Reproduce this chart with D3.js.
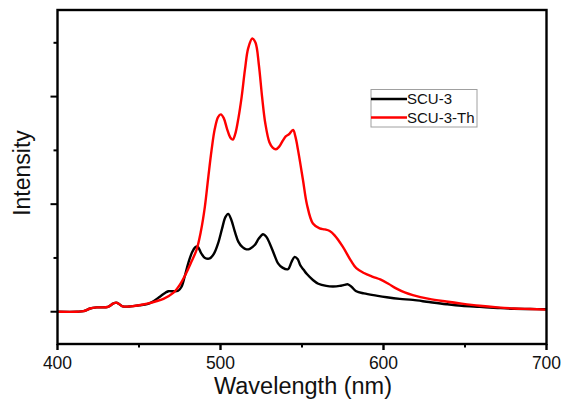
<!DOCTYPE html>
<html>
<head>
<meta charset="utf-8">
<script src="https://cdn.jsdelivr.net/npm/d3@7"></script>
<style>
  body { margin: 0; background: #fff; }
  svg text { font-family: "Liberation Sans", Arial, sans-serif; }
</style>
</head>
<body>
<svg id="chart" width="563" height="400"></svg>
<script>
// wavelength (nm) / intensity (arb., units of one y tick)
const scu3Wl = [400, 412, 416, 420, 424, 431, 434, 436, 438, 440, 445, 450, 455, 458, 462.8, 466, 468, 471, 474, 476, 478, 480.2, 482.5, 484.5, 486, 488.3, 490.5, 493.4, 496, 498.5, 501, 503, 504.7, 506.5, 508.8, 511, 513.5, 515.9, 518, 521, 523.5, 526.1, 528, 530.2, 533, 535.3, 538, 541.4, 543.5, 545.5, 547.3, 549, 551, 553, 556.7, 560, 564.9, 569, 573.1, 576, 578.2, 580.5, 583.3, 588, 595.6, 602, 610, 618, 628, 638.5, 648, 659, 670, 680, 690, 700];
const scu3Val = [0, 0, 0.01, 0.06, 0.08, 0.09, 0.15, 0.17, 0.14, 0.1, 0.1, 0.12, 0.14, 0.18, 0.28, 0.35, 0.38, 0.38, 0.39, 0.46, 0.65, 0.9, 1.1, 1.2, 1.21, 1.08, 1.0, 0.99, 1.08, 1.27, 1.55, 1.76, 1.82, 1.72, 1.49, 1.3, 1.2, 1.16, 1.17, 1.24, 1.36, 1.44, 1.4, 1.27, 1.06, 0.9, 0.82, 0.79, 0.92, 1.02, 0.98, 0.86, 0.78, 0.7, 0.59, 0.52, 0.48, 0.47, 0.48, 0.5, 0.51, 0.46, 0.38, 0.34, 0.3, 0.27, 0.24, 0.22, 0.18, 0.14, 0.11, 0.09, 0.07, 0.055, 0.05, 0.045];

const scu3ThWl = [400, 412, 416, 420, 424, 431, 434, 436, 438, 440, 445, 450, 455, 460, 465, 471, 475, 479, 482, 485.3, 488, 490.4, 492.5, 494.5, 496.5, 498.5, 500.2, 502, 504, 506, 507.5, 509, 511, 513, 515, 517, 519.5, 521.5, 523.5, 525.5, 527.5, 530, 532, 534, 536, 538, 540, 542, 544.5, 546, 547.6, 550.6, 553, 556.7, 560.8, 564, 567, 570, 575, 580, 583.3, 588, 593.5, 598, 603, 608, 613, 618, 628, 638.5, 648, 659, 670, 680, 690, 700];
const scu3ThVal = [0, 0, 0.01, 0.06, 0.08, 0.09, 0.15, 0.17, 0.14, 0.1, 0.1, 0.12, 0.15, 0.19, 0.24, 0.35, 0.5, 0.72, 0.92, 1.15, 1.5, 1.95, 2.5, 3.0, 3.4, 3.62, 3.67, 3.6, 3.4, 3.24, 3.2, 3.3, 3.6, 4.0, 4.5, 4.9, 5.08, 5.0, 4.6, 4.0, 3.5, 3.15, 3.05, 3.02, 3.07, 3.17, 3.26, 3.3, 3.38, 3.25, 3.0, 2.45, 2.0, 1.64, 1.55, 1.53, 1.5, 1.42, 1.21, 0.95, 0.81, 0.72, 0.65, 0.6, 0.52, 0.43, 0.36, 0.31, 0.24, 0.19, 0.15, 0.11, 0.08, 0.06, 0.05, 0.04];

const xMajor = [400, 500, 600, 700];
const xMinor = [450, 550, 650];
const yMajor = [0, 2, 4];
const yMinor = [1, 3, 5];

const seriesNames = ["SCU-3", "SCU-3-Th"];
const seriesColors = ["#000000", "#ff0000"];

const svg = d3.select("#chart");
const plotL = 57.5, plotR = 546.5, plotT = 10, plotB = 344;

const x = d3.scaleLinear().domain([400, 700]).range([plotL, plotR]);
// one tick unit is ~53.8px, zero sits at y=311.7
const y = d3.scaleLinear().domain([-0.6, 5.61]).range([plotB, plotT]);

const line = d3.line()
  .x(d => x(d[0]))
  .y(d => y(d[1]))
  .curve(d3.curveCatmullRom.alpha(0.5));

const series = [
  d3.zip(scu3Wl, scu3Val),
  d3.zip(scu3ThWl, scu3ThVal)
];

svg.append("g")
  .selectAll("path")
  .data(series)
  .join("path")
  .attr("d", line)
  .attr("fill", "none")
  .attr("stroke", (d, i) => seriesColors[i])
  .attr("stroke-width", 2.4)
  .attr("stroke-linejoin", "round");

// frame
svg.append("rect")
  .attr("x", plotL).attr("y", plotT)
  .attr("width", plotR - plotL).attr("height", plotB - plotT)
  .attr("fill", "none").attr("stroke", "#000").attr("stroke-width", 2.4);

// x axis ticks
const xAxis = svg.append("g").attr("transform", `translate(0,${plotB})`);
xAxis.selectAll("line.major").data(xMajor).join("line")
  .attr("class", "major")
  .attr("x1", d => x(d)).attr("x2", d => x(d))
  .attr("y1", 0).attr("y2", 6)
  .attr("stroke", "#000").attr("stroke-width", 2.4);
xAxis.selectAll("line.minor").data(xMinor).join("line")
  .attr("class", "minor")
  .attr("x1", d => x(d)).attr("x2", d => x(d))
  .attr("y1", 0).attr("y2", 3.5)
  .attr("stroke", "#000").attr("stroke-width", 2);
xAxis.selectAll("text").data(xMajor).join("text")
  .attr("x", d => x(d)).attr("y", 24.5)
  .attr("text-anchor", "middle")
  .attr("font-size", 17.5)
  .attr("fill", "#111")
  .text(d => d);

// y axis ticks (no labels)
svg.append("g").selectAll("line").data(yMajor.map(v => [v, 7]).concat(yMinor.map(v => [v, 4])))
  .join("line")
  .attr("x1", plotL - 0.5).attr("x2", d => plotL - d[1])
  .attr("y1", d => y(d[0])).attr("y2", d => y(d[0]))
  .attr("stroke", "#000").attr("stroke-width", 2);

// axis titles
svg.append("text")
  .attr("x", (plotL + plotR) / 2 + 1).attr("y", 393.5)
  .attr("text-anchor", "middle")
  .attr("font-size", 23.5)
  .attr("fill", "#111")
  .text("Wavelength (nm)");

svg.append("text")
  .attr("transform", `translate(30,173) rotate(-90)`)
  .attr("text-anchor", "middle")
  .attr("font-size", 23)
  .attr("fill", "#111")
  .text("Intensity");

// legend
const legend = svg.append("g").attr("transform", "translate(371,89.5)");
legend.append("rect")
  .attr("width", 106).attr("height", 37.5)
  .attr("fill", "#fff").attr("stroke", "#a0a0a0").attr("stroke-width", 1);
const item = legend.selectAll("g").data(seriesNames).join("g")
  .attr("transform", (d, i) => `translate(0,${9.5 + i * 18.5})`);
item.append("line")
  .attr("x1", 0).attr("x2", 36)
  .attr("stroke", (d, i) => seriesColors[i]).attr("stroke-width", 2.6);
item.append("text")
  .attr("x", 36).attr("y", 5.3)
  .attr("font-size", 15)
  .attr("fill", "#111")
  .text(d => d);
</script>
</body>
</html>
